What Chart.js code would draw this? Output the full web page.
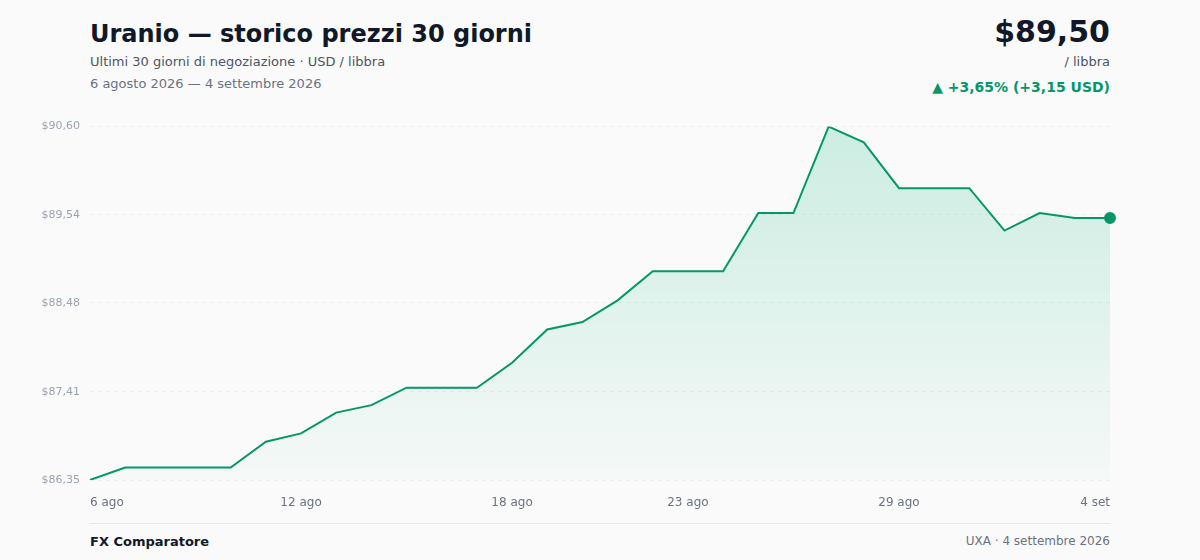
<!DOCTYPE html>
<html><head><meta charset="utf-8">
<script src="https://cdn.jsdelivr.net/npm/chart.js@4"></script>
<style>
body{margin:0;width:1200px;height:560px;background:#fafafa;font-family:"DejaVu Sans",sans-serif;position:relative;overflow:hidden}
.t{position:absolute;left:90px;top:20px;font-size:24px;font-weight:bold;color:#111827}
.s1{position:absolute;left:90px;top:54px;font-size:13px;color:#4b5563}
.s2{position:absolute;left:90px;top:76px;font-size:13px;color:#6b7280}
.p{position:absolute;right:90px;top:14px;font-size:30px;font-weight:bold;color:#111827}
.u{position:absolute;right:90px;top:54px;font-size:13px;color:#4b5563}
.c{position:absolute;right:90px;top:79px;font-size:14px;font-weight:bold;color:#059669}
#w{position:absolute;left:0;top:110px;width:1200px;height:410px}
.hr{position:absolute;left:90px;right:90px;top:523px;border-top:1px solid #e5e7eb}
.f1{position:absolute;left:90px;top:534px;font-size:13px;font-weight:bold;color:#111827}
.f2{position:absolute;right:90px;top:534px;font-size:12px;color:#6b7280}
</style></head><body>
<div class="t">Uranio — storico prezzi 30 giorni</div>
<div class="s1">Ultimi 30 giorni di negoziazione · USD / libbra</div>
<div class="s2">6 agosto 2026 — 4 settembre 2026</div>
<div class="p">$89,50</div>
<div class="u">/ libbra</div>
<div class="c">▲ +3,65% (+3,15 USD)</div>
<div id="w"><canvas id="ch"></canvas></div>
<div class="hr"></div>
<div class="f1">FX Comparatore</div>
<div class="f2">UXA · 4 settembre 2026</div>
<script>
const dates=["6 ago","7 ago","8 ago","9 ago","10 ago","11 ago","12 ago","13 ago","14 ago","15 ago","16 ago","17 ago","18 ago","19 ago","20 ago","21 ago","22 ago","23 ago","24 ago","25 ago","26 ago","27 ago","28 ago","29 ago","30 ago","31 ago","1 set","2 set","3 set","4 set"];
const prices=[86.35,86.50,86.50,86.50,86.50,86.81,86.91,87.16,87.25,87.46,87.46,87.46,87.76,88.16,88.25,88.51,88.86,88.86,88.86,89.56,89.56,90.60,90.41,89.86,89.86,89.86,89.35,89.56,89.50,89.50];
const shownLabels=["6 ago","12 ago","18 ago","23 ago","29 ago","4 set"];
const yTicks=[86.35,87.41,88.48,89.54,90.60];
const green="#059669";
new Chart(document.getElementById('ch'),{type:'line',
data:{labels:dates,datasets:[{data:prices,borderColor:green,borderWidth:2,tension:0,
fill:'start',
backgroundColor:(ctx)=>{const a=ctx.chart.chartArea;if(!a)return 'rgba(5,150,105,0.1)';const g=ctx.chart.ctx.createLinearGradient(0,a.top,0,a.bottom);g.addColorStop(0,'rgba(16,185,129,0.2)');g.addColorStop(1,'rgba(16,185,129,0.02)');return g;},
pointRadius:(c)=>c.dataIndex===prices.length-1?5:0,pointBackgroundColor:green,pointBorderColor:green,pointHoverRadius:0}]},
options:{responsive:true,maintainAspectRatio:false,animation:false,
layout:{padding:{top:4,right:90,left:0,bottom:0}},
plugins:{legend:{display:false},tooltip:{enabled:false}},
scales:{
x:{offset:false,grid:{display:false},border:{display:false},
ticks:{autoSkip:false,maxRotation:0,align:'inner',color:'#6b7280',font:{family:'DejaVu Sans',size:12},padding:8,
callback:function(v){const l=this.getLabelForValue(v);return shownLabels.includes(l)?l:null;}},
afterFit:s=>{s.height=40;}},
y:{min:86.35,max:90.60,border:{display:false,dash:[4,4]},
afterBuildTicks:s=>{s.ticks=yTicks.map(v=>({value:v}));},
grid:{color:'#eceef1',drawTicks:false},
ticks:{color:'#9ca3af',font:{family:'DejaVu Sans',size:11},padding:10,callback:v=>'$'+v.toFixed(2).replace('.',',')},
afterFit:s=>{s.width=90;}}}}});
</script></body></html>
